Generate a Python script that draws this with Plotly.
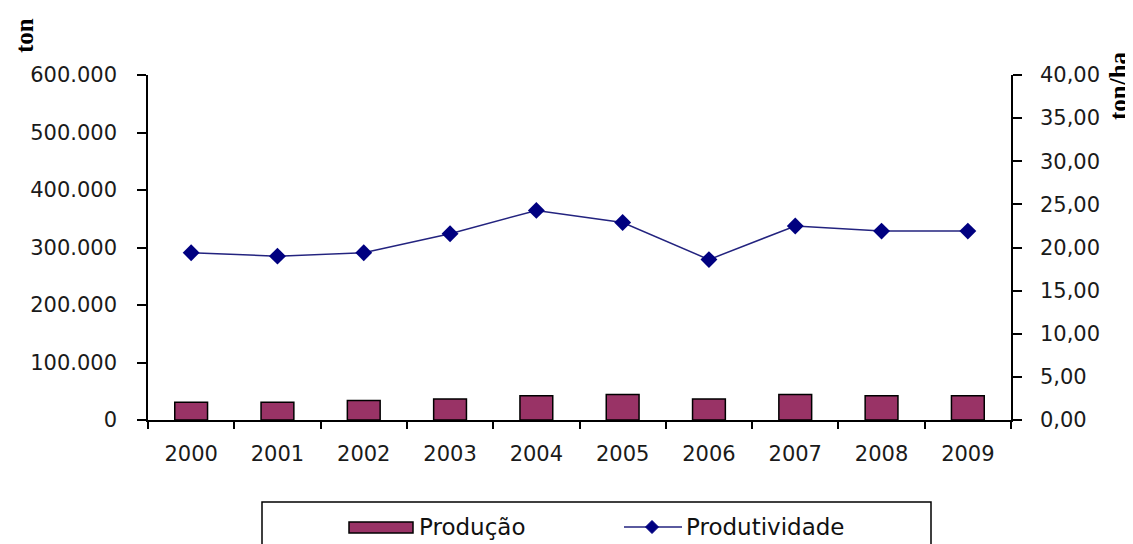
import plotly.graph_objects as go

# ---- data ----
years = ["2000", "2001", "2002", "2003", "2004", "2005", "2006", "2007", "2008", "2009"]
producao = [30800, 30800, 33800, 36500, 42300, 44500, 36500, 44500, 42300, 42300]
produtividade = [19.4, 19.0, 19.4, 21.6, 24.3, 22.9, 18.6, 22.5, 21.9, 21.9]

left_tickvals = [0, 100000, 200000, 300000, 400000, 500000, 600000]
left_ticktext = ["0", "100.000", "200.000", "300.000", "400.000", "500.000", "600.000"]
right_tickvals = [0, 5, 10, 15, 20, 25, 30, 35, 40]
right_ticktext = ["0,00", "5,00", "10,00", "15,00", "20,00", "25,00", "30,00", "35,00", "40,00"]

# ---- layout geometry (page pixels; the page body adds an 8px offset) ----
OFF = 8
W, H = 1133 - OFF, 544 - OFF
PL, PR, PT, PB = 148, 1011, 75, 420          # plot area in page pixels
L, R, T, B = PL - OFF, PR - OFF, PT - OFF, PB - OFF


def fx(px):
    return (px - PL) / (PR - PL)


def fy(py):
    return (PB - py) / (PB - PT)


BAR_COLOR = "#993366"
LINE_COLOR = "#000080"
TICK_FONT = dict(family="DejaVu Sans", size=21, color="#1a1a1a")

fig = go.Figure()
fig.add_trace(go.Bar(
    x=years, y=producao, name="Produção", width=0.38,
    marker=dict(color=BAR_COLOR, line=dict(color="black", width=1.5)),
    yaxis="y", showlegend=False,
))
fig.add_trace(go.Scatter(
    x=years, y=produtividade, name="Produtividade", mode="lines+markers",
    line=dict(color="#23237f", width=1.5),
    marker=dict(symbol="diamond", size=13, color=LINE_COLOR),
    yaxis="y2", showlegend=False,
))

axis_common = dict(showgrid=False, zeroline=False, showline=True,
                   linecolor="black", linewidth=1.5,
                   tickcolor="black", tickwidth=1.5)

fig.update_layout(
    width=W, height=H, autosize=False,
    margin=dict(l=L, r=W - R, t=T, b=H - B, pad=0),
    paper_bgcolor="white", plot_bgcolor="white",
    showlegend=False,
    xaxis=dict(type="category", range=[-0.5, 9.5], tickson="boundaries",
               ticks="outside", ticklen=7, tickfont=TICK_FONT,
               ticklabelstandoff=14, **axis_common),
    xaxis2=dict(overlaying="x", anchor="y", side="bottom", type="linear",
                range=[-0.5, 9.5], tick0=-0.5, dtick=1, ticks="inside",
                ticklen=8, tickcolor="black", tickwidth=1.5,
                showticklabels=False, showline=False, showgrid=False, zeroline=False),
    yaxis=dict(range=[0, 600000], tickvals=left_tickvals, ticktext=left_ticktext,
               ticks="outside", ticklen=9, tickfont=TICK_FONT,
               ticklabelstandoff=16, **axis_common),
    yaxis2=dict(range=[0, 40], tickvals=right_tickvals, ticktext=right_ticktext,
                overlaying="y", side="right", anchor="x",
                ticks="outside", ticklen=9, tickfont=TICK_FONT,
                ticklabelstandoff=14, **axis_common),
    yaxis3=dict(range=[0, 600000], tickvals=left_tickvals, overlaying="y",
                side="left", anchor="x", ticks="inside", ticklen=9,
                tickcolor="black", tickwidth=1.5, showticklabels=False,
                showline=False, showgrid=False, zeroline=False),
    yaxis4=dict(range=[0, 40], tickvals=right_tickvals, overlaying="y",
                side="right", anchor="x", ticks="inside", ticklen=9,
                tickcolor="black", tickwidth=1.5, showticklabels=False,
                showline=False, showgrid=False, zeroline=False),
)

# axis titles
fig.add_annotation(text="ton", xref="paper", yref="paper", x=fx(25), y=fy(36),
                   textangle=-90, showarrow=False, xanchor="center", yanchor="middle",
                   borderpad=0,
                   font=dict(family="Liberation Serif", size=25, color="black", weight="bold"))
fig.add_annotation(text="ton/ha", xref="paper", yref="paper", x=fx(1119), y=fy(86),
                   textangle=-90, showarrow=False, xanchor="center", yanchor="middle",
                   borderpad=0,
                   font=dict(family="Liberation Serif", size=25, color="black", weight="bold"))

# legend (drawn box with keys)
LEG_Y = 527
fig.add_shape(type="rect", xref="paper", yref="paper",
              x0=fx(262), x1=fx(931), y0=fy(502), y1=fy(580),
              line=dict(color="black", width=1.5), fillcolor="rgba(0,0,0,0)")
fig.add_shape(type="rect", xref="paper", yref="paper",
              x0=fx(349), x1=fx(413), y0=fy(522), y1=fy(533),
              line=dict(color="black", width=1.5), fillcolor=BAR_COLOR)
fig.add_shape(type="line", xref="paper", yref="paper",
              x0=fx(624), x1=fx(682), y0=fy(LEG_Y), y1=fy(LEG_Y),
              line=dict(color="#23237f", width=1.5))
cx, cy, d = 652, LEG_Y, 6.5
fig.add_shape(type="path", xref="paper", yref="paper",
              path=f"M {fx(cx - d)},{fy(cy)} L {fx(cx)},{fy(cy - d)} L {fx(cx + d)},{fy(cy)} L {fx(cx)},{fy(cy + d)} Z",
              line=dict(color=LINE_COLOR, width=1), fillcolor=LINE_COLOR)
LEG_FONT = dict(family="DejaVu Sans", size=23, color="#111111")
fig.add_annotation(text="Produção", xref="paper", yref="paper", x=fx(417), y=fy(LEG_Y),
                   showarrow=False, xanchor="left", yanchor="middle", font=LEG_FONT)
fig.add_annotation(text="Produtividade", xref="paper", yref="paper", x=fx(684), y=fy(LEG_Y),
                   showarrow=False, xanchor="left", yanchor="middle", font=LEG_FONT)

fig.write_html("out.html")
